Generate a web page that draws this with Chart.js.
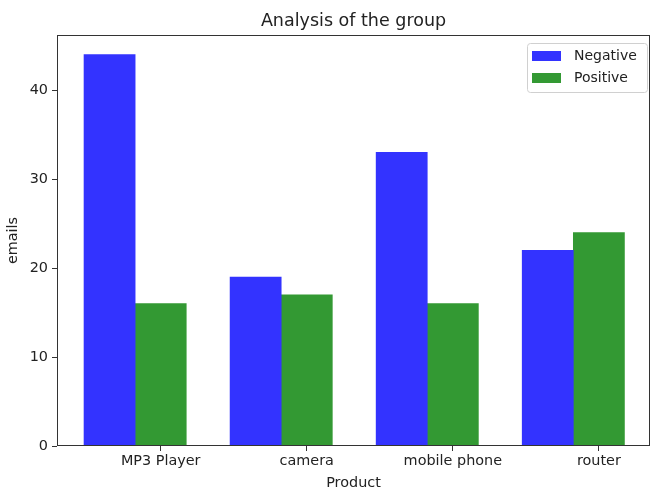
<!DOCTYPE html>
<html>
<head>
<meta charset="utf-8">
<script src="https://cdn.jsdelivr.net/npm/chart.js@4"></script>
<style>
  body { margin: 0; background: #fff; }
</style>
</head>
<body>
<canvas id="groupChart" width="650" height="489"></canvas>
<script>
const products = ['MP3 Player', 'camera', 'mobile phone', 'router'];
const negativeEmails = [44, 19, 33, 22];
const positiveEmails = [16, 17, 16, 24];
const yTicks = [0, 10, 20, 30, 40];

const barWidth = 0.35;
const textColor = '#222';

// frame round the plot, like matplotlib spines
const framePlugin = {
    id: 'frame',
    afterLayout(chart) {
        // centre the title over the plot, not the canvas
        chart.titleBlock.left = chart.chartArea.left;
        chart.titleBlock.right = chart.chartArea.right;
    },
    afterDatasetsDraw(chart) {
        const a = chart.chartArea;
        const ctx = chart.ctx;
        ctx.save();
        ctx.strokeStyle = '#333';
        ctx.lineWidth = 1;
        ctx.strokeRect(a.left + 0.5, a.top + 0.5, a.right - a.left - 1, a.bottom - a.top - 1);
        ctx.restore();
    }
};

// legend box in the upper right corner
const boxLegend = {
    id: 'boxLegend',
    afterDraw(chart) {
        const a = chart.chartArea;
        const ctx = chart.ctx;
        const sets = chart.data.datasets;
        const w = 120, h = 49;
        const x = a.right - w - 3, y = a.top + 8;
        ctx.save();
        ctx.fillStyle = 'rgba(255,255,255,0.8)';
        ctx.strokeStyle = '#d0d0d0';
        ctx.lineWidth = 1;
        ctx.beginPath();
        ctx.roundRect(x + 0.5, y + 0.5, w, h, 3);
        ctx.fill();
        ctx.stroke();
        ctx.font = '14px "DejaVu Sans"';
        ctx.textBaseline = 'middle';
        sets.forEach((ds, i) => {
            const cy = y + 13 + i * 22;
            ctx.fillStyle = ds.backgroundColor;
            ctx.fillRect(x + 5, cy - 5, 29, 10);
            ctx.fillStyle = textColor;
            ctx.fillText(ds.label, x + 47, cy);
        });
        ctx.restore();
    }
};

const dataGroup = {
    datasets: [{
        label: 'Negative',
        data: products.map((p, i) => ({x: i, y: negativeEmails[i]})),
        backgroundColor: 'rgb(51, 51, 255)'
    },
    {
        label: 'Positive',
        data: products.map((p, i) => ({x: i + barWidth, y: positiveEmails[i]})),
        backgroundColor: 'rgb(51, 153, 51)'
    }]
};

const configGroup = {
    type: 'bar',
    data: dataGroup,
    options: {
        responsive: false,
        animation: false,
        grouped: false,
        barPercentage: 1,
        categoryPercentage: 1,
        borderWidth: 0,
        layout: { padding: { left: 0, right: 0, top: 0, bottom: 0 } },
        plugins: {
            legend: { display: false },
            tooltip: { enabled: false },
            title: {
                display: true,
                text: 'Analysis of the group',
                color: textColor,
                font: { family: 'DejaVu Sans', size: 17.5, weight: 'normal', lineHeight: 1.2 },
                padding: { top: 11, bottom: 3 }
            }
        },
        scales: {
            x: {
                type: 'linear',
                offset: false,
                min: -0.36,
                max: 3.7,
                afterBuildTicks: (scale) => {
                    scale.ticks = products.map((p, i) => ({value: i + barWidth}));
                },
                afterFit: (scale) => { scale.height = 43; },
                ticks: {
                    color: textColor,
                    font: { family: 'DejaVu Sans', size: 14.4 },
                    padding: 2,
                    maxRotation: 0,
                    autoSkip: false,
                    callback: (v, i) => products[i]
                },
                grid: { offset: false, drawOnChartArea: false, tickLength: 5, color: '#333' },
                border: { display: false },
                title: {
                    display: true,
                    text: 'Product',
                    color: textColor,
                    font: { family: 'DejaVu Sans', size: 14.4, lineHeight: 1 },
                    padding: { top: 0, bottom: -1 }
                }
            },
            y: {
                min: 0,
                max: 46.2,
                afterBuildTicks: (scale) => {
                    scale.ticks = yTicks.map(v => ({value: v}));
                },
                afterFit: (scale) => { scale.width = 57; },
                ticks: {
                    color: textColor,
                    font: { family: 'DejaVu Sans', size: 14.4 },
                    padding: 4
                },
                grid: { drawOnChartArea: false, tickLength: 5, color: '#333' },
                border: { display: false },
                title: {
                    display: true,
                    text: 'emails',
                    color: textColor,
                    font: { family: 'DejaVu Sans', size: 14.4, lineHeight: 1.2 },
                    padding: { top: 5, bottom: 0 }
                }
            }
        }
    },
    plugins: [framePlugin, boxLegend]
};

const groupChart = new Chart(
    document.getElementById('groupChart'),
    configGroup
);
</script>
</body>
</html>
